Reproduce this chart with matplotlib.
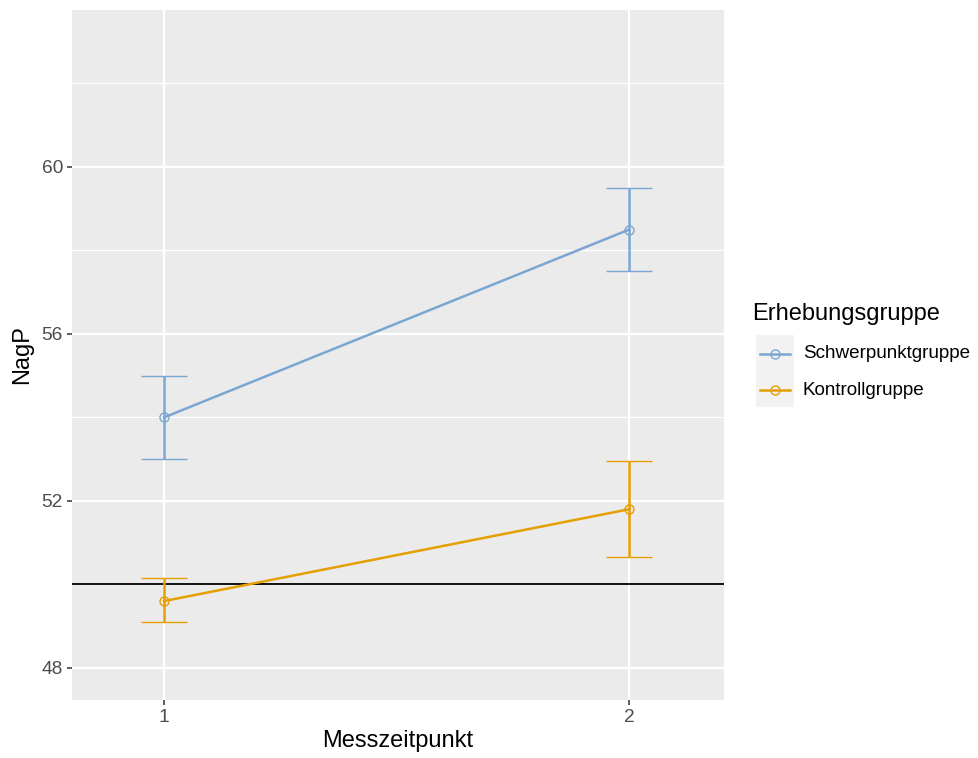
import matplotlib
matplotlib.use("Agg")
import matplotlib.pyplot as plt
from matplotlib.lines import Line2D
from matplotlib.patches import Rectangle

plt.rcParams['font.family'] = ['Liberation Sans', 'DejaVu Sans']

# data
zeitpunkte = [1, 2]
gruppen = ["Schwerpunktgruppe", "Kontrollgruppe"]
farben = ["#7aa7d2", "#e69f00"]
mittel_schwer = [54.0, 58.5]
oben_schwer = [55.0, 59.5]
unten_schwer = [53.0, 57.5]
mittel_kontroll = [49.6, 51.8]
oben_kontroll = [50.15, 52.95]
unten_kontroll = [49.1, 50.65]
referenz = 50
y_ticks = [48, 52, 56, 60]
y_minor = [50, 54, 58, 62]

fig = plt.figure(figsize=(9.79, 7.58), dpi=100)
ax = fig.add_axes([72 / 979, 1 - 700 / 758, (724 - 72) / 979, (700 - 10) / 758])
ax.set_facecolor("#ebebeb")
for s in ax.spines.values():
    s.set_visible(False)

for y in y_minor:
    ax.axhline(y, color="white", lw=0.8, zorder=0)
for y in y_ticks:
    ax.axhline(y, color="white", lw=1.6, zorder=0)
for x in zeitpunkte:
    ax.axvline(x, color="white", lw=1.6, zorder=0)

ax.axhline(referenz, color="black", lw=1.3, zorder=1)

serien = [(mittel_schwer, oben_schwer, unten_schwer),
          (mittel_kontroll, oben_kontroll, unten_kontroll)]
for (m, o, u), farbe in zip(serien, farben):
    err = [[mi - ui for mi, ui in zip(m, u)], [oi - mi for mi, oi in zip(m, o)]]
    ax.errorbar(zeitpunkte, m, yerr=err, color=farbe, lw=1.8, elinewidth=1.8,
                capsize=16.5, capthick=1.8, marker="o", markersize=6.5,
                markerfacecolor="none", markeredgewidth=1.0, zorder=3)

ax.set_xlim(0.802, 2.204)
ax.set_ylim(47.23, 63.76)
ax.set_xticks(zeitpunkte)
ax.set_xticklabels([str(z) for z in zeitpunkte])
ax.set_yticks(y_ticks)
ax.tick_params(axis="both", length=3.5, width=1.1, color="#333333",
               labelsize=13.8, labelcolor="#4d4d4d", pad=3)
ax.set_xlabel("Messzeitpunkt", fontsize=17, labelpad=3)
ax.set_ylabel("NagP", fontsize=17, labelpad=6)

# legend
fig.text(752 / 979, 1 - 314 / 758, "Erhebungsgruppe", fontsize=17,
         va="center", ha="left")
fig.patches.append(Rectangle((756 / 979, 1 - 407 / 758), 38 / 979, 72 / 758,
                             transform=fig.transFigure, facecolor="#f2f2f2",
                             edgecolor="none", zorder=0))
for i, (name, farbe) in enumerate(zip(gruppen, farben)):
    y = 1 - (354 + 36 * i) / 758
    fig.add_artist(Line2D([760 / 979, 790 / 979], [y, y], color=farbe, lw=1.8,
                          transform=fig.transFigure))
    fig.add_artist(Line2D([775 / 979], [y], color=farbe, marker="o",
                          markersize=6.5, markerfacecolor="none",
                          markeredgewidth=1.0, transform=fig.transFigure))
    fig.text(803 / 979, y, name, fontsize=13.6, va="center", ha="left")

fig.savefig("out.png", dpi=100)
